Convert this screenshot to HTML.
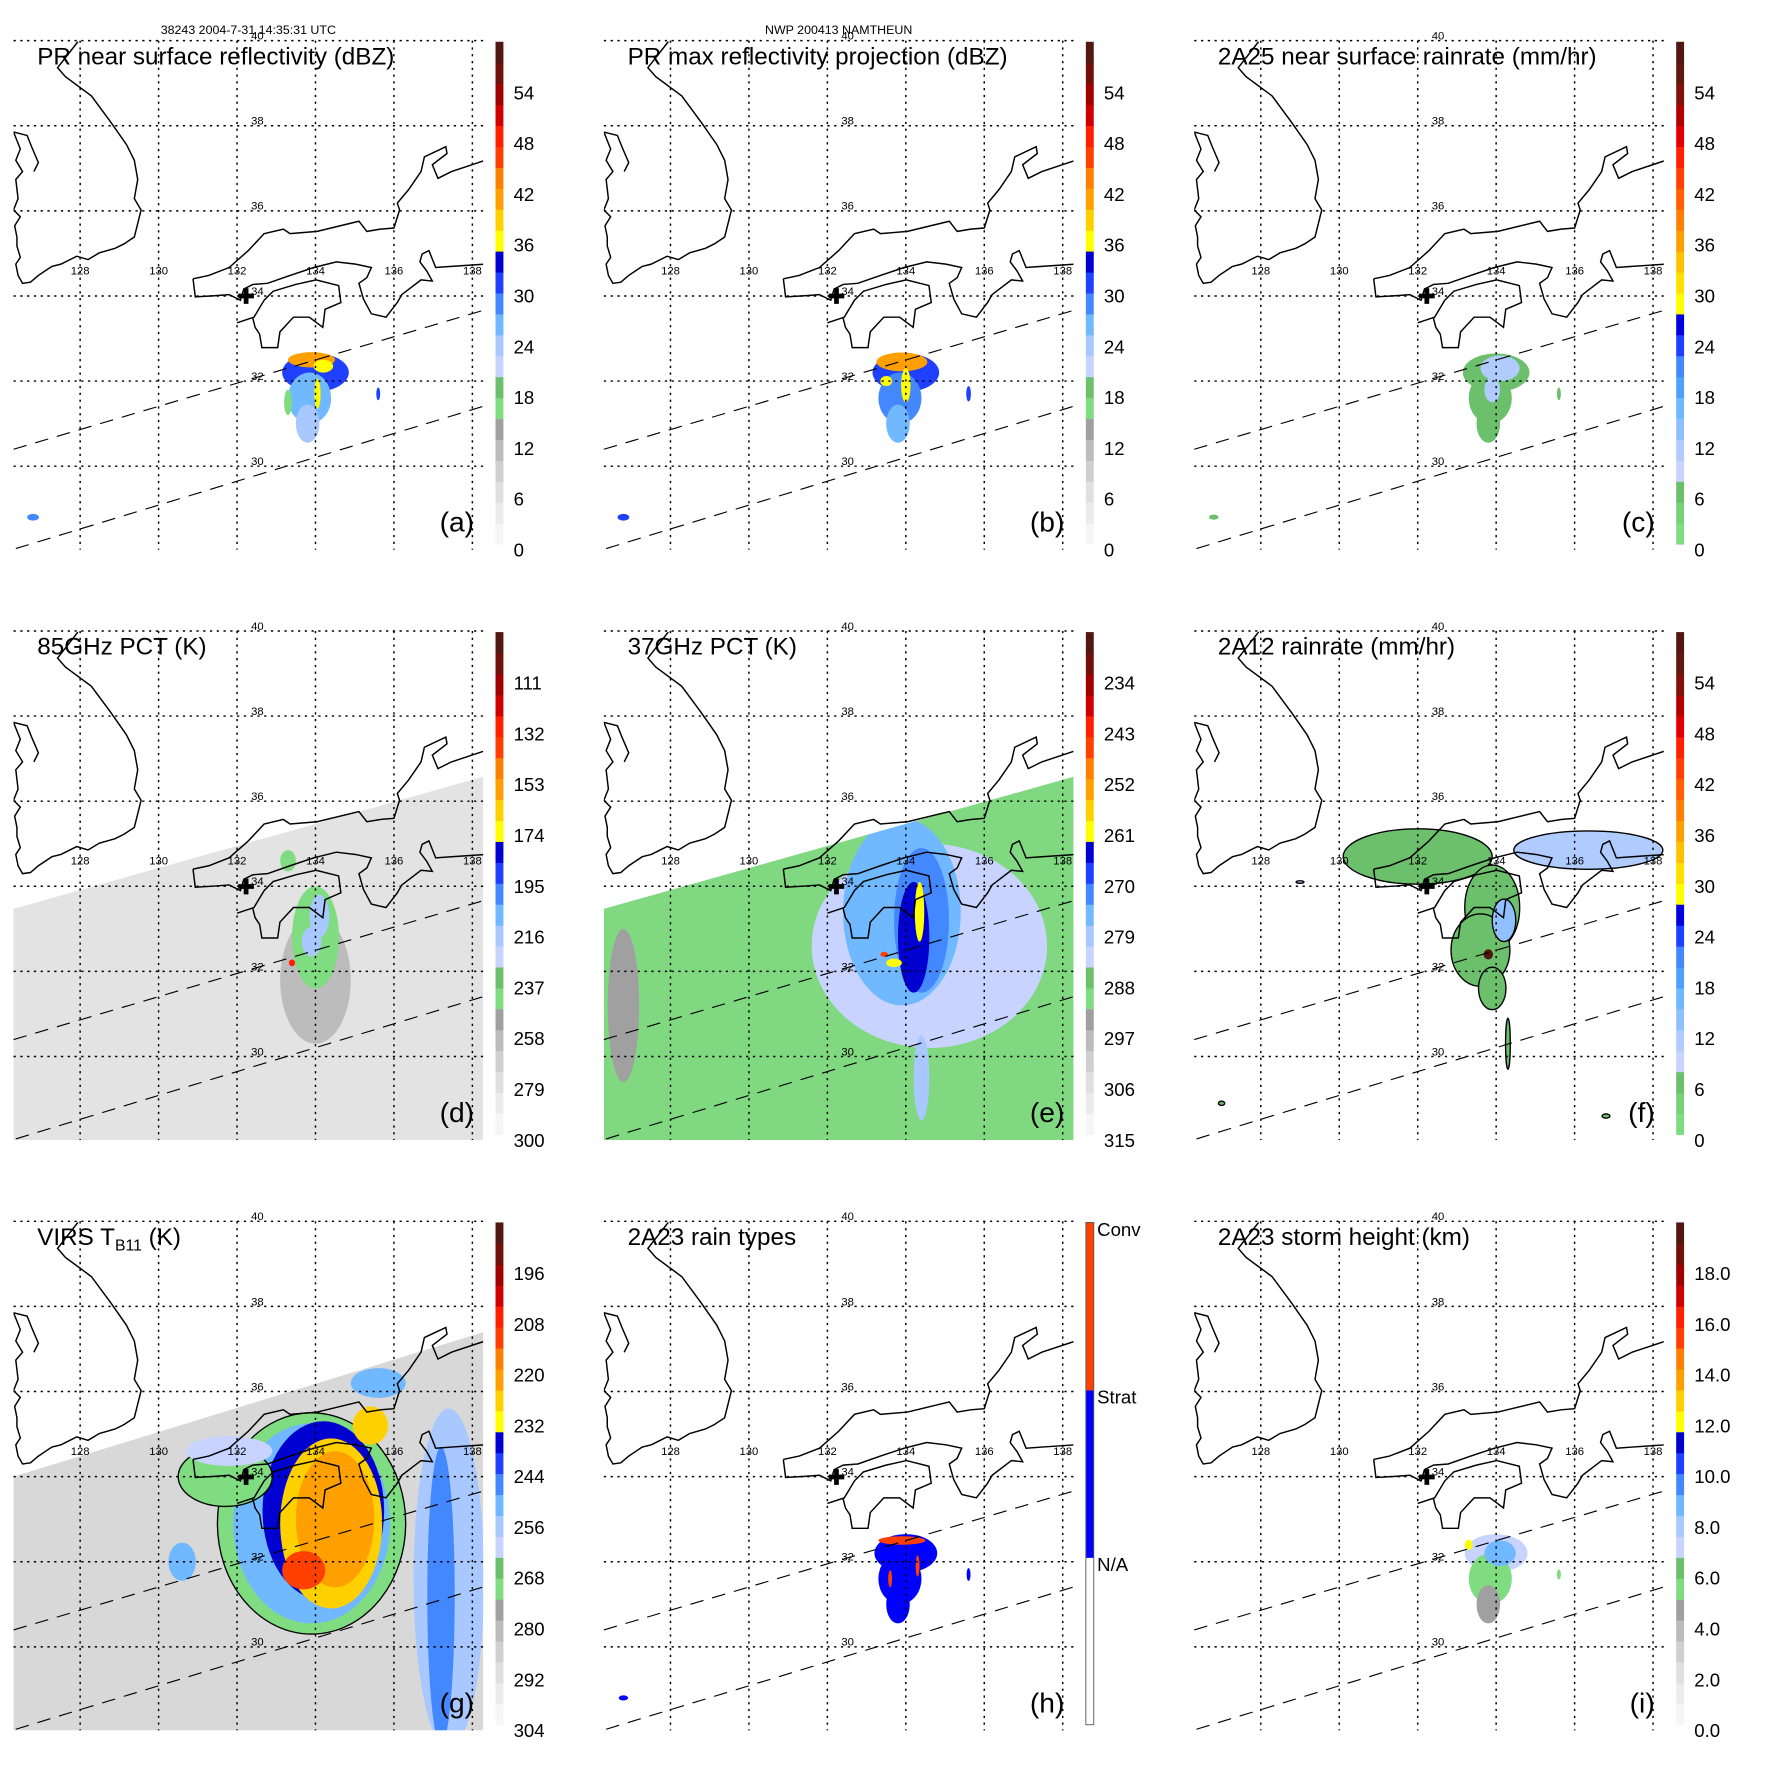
<!DOCTYPE html>
<html><head><meta charset="utf-8">
<style>
html,body{margin:0;padding:0;background:#fff;}
svg{display:block;font-family:"Liberation Sans",Arial,sans-serif;}
</style></head>
<body>
<svg id="fig" xmlns="http://www.w3.org/2000/svg" width="1771" height="1771" viewBox="0 0 1569 1569">
<rect x="0" y="0" width="1569" height="1569" fill="#fff"/>
<text x="220" y="30" font-size="11" text-anchor="middle">38243 2004-7-31 14:35:31 UTC</text>
<text x="743" y="30" font-size="11" text-anchor="middle">NWP 200413 NAMTHEUN</text>
</svg>
<script>
// ---- data ----
const lonTicks = [128,130,132,134,136,138];
const latTicks = [30,32,34,36,38,40];
const panelTitles = ["PR near surface reflectivity (dBZ)","PR max reflectivity projection (dBZ)","2A25 near surface rainrate (mm/hr)","85GHz PCT (K)","37GHz PCT (K)","2A12 rainrate (mm/hr)","VIRS T_B11 (K)","2A23 rain types","2A23 storm height (km)"];
const panelLetters = ["(a)","(b)","(c)","(d)","(e)","(f)","(g)","(h)","(i)"];
const ticksA = ["0","6","12","18","24","30","36","42","48","54"];
const ticksD = ["300","279","258","237","216","195","174","153","132","111"];
const ticksE = ["315","306","297","288","279","270","261","252","243","234"];
const ticksG = ["304","292","280","268","256","244","232","220","208","196"];
const ticksI = ["0.0","2.0","4.0","6.0","8.0","10.0","12.0","14.0","16.0","18.0"];
const ticksH = ["N/A","Strat","Conv"];
// field blobs: [lon, lat, rxDeg, ryDeg, value(0-60 scale)]
const blobsA = [[134.0,32.2,0.85,0.45,30],[133.85,31.6,0.55,0.6,27],[133.8,31.0,0.3,0.45,24],[133.9,32.5,0.6,0.18,40],[134.2,32.35,0.25,0.15,37],[134.05,31.7,0.08,0.35,37],[135.6,31.7,0.05,0.15,30],[126.8,28.8,0.15,0.08,29],[133.3,31.5,0.1,0.3,17]];
const blobsB = [[134.0,32.2,0.85,0.45,30],[133.85,31.6,0.55,0.6,28],[133.8,31.0,0.3,0.45,26],[133.9,32.45,0.65,0.22,40],[134.0,31.9,0.12,0.4,37],[133.5,32.0,0.15,0.12,37],[135.6,31.7,0.06,0.18,30],[126.8,28.8,0.15,0.08,30]];
const blobsC = [[134.0,32.2,0.85,0.45,5],[133.85,31.6,0.55,0.6,5],[133.8,31.0,0.3,0.45,5],[134.1,32.3,0.5,0.3,12],[133.9,31.8,0.2,0.3,12],[135.6,31.7,0.05,0.15,5],[126.8,28.8,0.12,0.06,5]];
const blobsD = [[134.0,31.8,0.9,1.5,11],[133.3,34.6,0.2,0.25,17],[134.0,32.8,0.6,1.2,17],[134.1,33.3,0.25,0.5,24],[133.4,32.2,0.08,0.08,48],[133.9,32.7,0.25,0.35,24]];
const blobsE = [[134.6,32.6,3.0,2.4,21],[133.9,33.4,1.5,2.2,25],[134.4,33.2,0.7,1.7,29],[134.2,32.8,0.4,1.3,33],[132.8,35.5,0.4,0.2,33],[134.35,33.4,0.12,0.7,36],[133.7,32.2,0.2,0.1,36],[133.45,32.4,0.1,0.06,47],[126.8,31.2,0.4,1.8,13],[134.4,29.5,0.2,1.0,23]];
const blobsF = [[132.0,34.7,1.9,0.65,5],[133.9,33.5,0.7,1.0,5],[133.6,32.5,0.75,0.85,5],[133.9,31.6,0.35,0.5,5],[136.35,34.85,1.9,0.45,12],[134.2,33.2,0.3,0.5,14],[133.8,32.4,0.12,0.12,60],[134.3,30.3,0.06,0.6,5],[127.0,28.9,0.08,0.05,5],[136.8,28.6,0.1,0.05,5],[129.0,34.1,0.1,0.03,12]];
const blobsG = [[133.9,32.9,2.4,2.6,17],[133.9,32.9,2.0,2.35,27],[134.2,33.2,1.55,2.1,33],[134.4,32.9,1.3,2.0,38],[134.5,33.0,1.0,1.6,42],[133.7,31.8,0.55,0.45,47],[131.7,34.0,1.2,0.7,17],[131.8,34.6,1.1,0.35,21],[137.4,31.6,0.9,4.0,23],[137.2,31.2,0.35,3.5,29],[135.6,36.2,0.7,0.35,27],[135.4,35.2,0.45,0.45,38],[130.6,32.0,0.35,0.45,25]];
const blobsH = [[134.0,32.2,0.8,0.45,1],[133.85,31.6,0.55,0.6,1],[133.8,31.0,0.3,0.45,1],[133.9,32.5,0.6,0.1,2],[133.6,31.6,0.05,0.2,2],[134.3,31.9,0.05,0.25,2],[135.6,31.7,0.05,0.15,1],[126.8,28.8,0.12,0.06,1]];
const blobsI = [[134.0,32.2,0.8,0.45,20],[133.85,31.6,0.55,0.6,17],[133.8,31.0,0.3,0.45,13],[134.1,32.2,0.4,0.3,25],[133.3,32.4,0.1,0.12,36],[135.6,31.7,0.05,0.12,17]];
// ---- colormaps (bins bottom->top) ----
const cmapStd = ["#f6f6f6","#ececec","#e0e0e0","#d0d0d0","#bcbcbc","#a0a0a0","#80dc80","#6cc06c","#c8d4ff","#a8c8ff","#70b8ff","#4488ff","#2040ff","#0000d0","#ffff00","#ffd000","#ffa000","#ff8000","#ff4000","#ff2000","#d00000","#a00000","#701008","#501810"];
const cmapRain = ["#80dc80","#78d078","#6cc06c","#c8d4ff","#b0ccff","#90c0ff","#70b8ff","#50a0ff","#4488ff","#2040ff","#0000e0","#ffff00","#ffe000","#ffc000","#ffa000","#ff8000","#ff6000","#ff4000","#ff2000","#e00000","#b00000","#801008","#601810","#501810"];
const cmapType = ["#ffffff","#0000ff","#ff4000"];

const NS = "http://www.w3.org/2000/svg";
const svg = document.getElementById("fig");
function el(tag, attrs, parent){ const e=document.createElementNS(NS,tag); for(const k in attrs) e.setAttribute(k,attrs[k]); (parent||svg).appendChild(e); return e; }
function lonX(lon){ return 71 + (lon-128)*34.75; }
function latY(lat){ return 413 - (lat-30)*37.7; }
function colorOf(cmap, v){ const n=cmap.length; let i=Math.floor(v/60*n); if(i<0)i=0; if(i>=n)i=n-1; return cmap[i]; }

const coastKorea = "M69,37 L51,60 L58,68 L81,85 L98,108 L112,128 L119,142 L122,159 L119,176 L125,186 L119,210 L110,216 L102,220 L88,224 L78,230 L68,227 L60,231 L54,234 L46,236 L40,240 L34,244 L27,250 L20,251 L16,244 L14,234 L18,228 L15,218 L15,210 L13,200 L18,192 L12,186 L16,176 L14,159 L20,152 L14,142 L18,132 L12,117 L24,120 L28,130 L34,144 L30,152";
const coastHonshu = "M171,247 L173,263 L190,262 L203,261 L213,266 L216,256 L224,252 L237,251 L257,244 L278,237 L298,232 L315,234 L329,237 L325,246 L318,251 L322,265 L329,278 L342,281 L352,268 L356,261 L373,248 L383,249 L378,240 L372,232 L374,225 L380,222 L386,237 L400,236 L430,234 M171,247 L185,244 L203,237 L220,222 L234,207 L251,203 L257,207 L281,205 L318,196 L325,205 L337,203 L349,202 L354,186 L352,180 L362,168 L373,152 L376,139 L395,130 L396,136 L383,146 L388,158 L400,152 L430,142";
const coastShikoku = "M210,286 L225,281 L234,266 L242,258 L262,252 L280,248 L300,253 L302,268 L288,274 L286,290 L274,281 L260,281 L248,294 L246,308 L232,308 L230,296 L226,290 L224,282";

const specs = [
 {blobs:blobsA,cmap:cmapStd,ticks:ticksA,swath:null,bg:null,outline:false},
 {blobs:blobsB,cmap:cmapStd,ticks:ticksA,swath:null,bg:null,outline:true},
 {blobs:blobsC,cmap:cmapRain,ticks:ticksA,swath:null,bg:null,outline:false},
 {blobs:blobsD,cmap:cmapStd,ticks:ticksD,swath:[[126.3,33.47],[138.3,36.58]],bg:"#e3e3e3",outline:false},
 {blobs:blobsE,cmap:cmapStd,ticks:ticksE,swath:[[126.3,33.47],[138.3,36.58]],bg:"#80d880",outline:false},
 {blobs:blobsF,cmap:cmapRain,ticks:ticksA,swath:null,bg:null,outline:true},
 {blobs:blobsG,cmap:cmapStd,ticks:ticksG,swath:[[126.3,34.0],[138.3,37.4]],bg:"#d8d8d8",outline:true},
 {blobs:blobsH,cmap:cmapType,ticks:ticksH,swath:null,bg:null,outline:false,cat:true},
 {blobs:blobsI,cmap:cmapStd,ticks:ticksI,swath:null,bg:null,outline:false}
];

specs.forEach((sp, idx)=>{
  const ox = (idx%3)*523, oy = Math.floor(idx/3)*523;
  const g = el("g",{transform:`translate(${ox},${oy})`});
  
  
  const cid = "clip"+idx;
  const cp = el("clipPath",{id:cid},g); el("rect",{x:12,y:36,width:416,height:451},cp);
  const field = el("g",{"clip-path":`url(#${cid})`},g);
  
  
  let fieldInner = field;
  if(sp.swath){
    const sid="sw"+idx;
    const scp = el("clipPath",{id:sid},g);
    const pts = `${lonX(sp.swath[0][0])},${latY(sp.swath[0][1])} ${lonX(sp.swath[1][0])},${latY(sp.swath[1][1])} 428,487 12,487`;
    el("polygon",{points:pts},scp);
    const bg = el("polygon",{points:pts,fill:sp.bg},field);
    
    
    fieldInner = el("g",{"clip-path":`url(#${sid})`},field);
  }
  sp.blobs.forEach(b=>{
    const c = sp.cat ? sp.cmap[b[4]] : colorOf(sp.cmap,b[4]);
    const e = el("ellipse",{cx:lonX(b[0]),cy:latY(b[1]),rx:b[2]*34.75,ry:b[3]*37.7,fill:c,stroke:sp.outline&&b[4]<20?"#000":"none","stroke-width":1.2},fieldInner);
    
    
  });
  // grid
  lonTicks.forEach(l=>{
    const x=lonX(l);
    const ln=el("line",{x1:x,y1:36,x2:x,y2:487,stroke:"#000","stroke-width":1.3,"stroke-dasharray":"2,4"},g);
    
    
    const t=el("text",{x:x,y:243,"font-size":10,"text-anchor":"middle"},g); t.textContent=l;
    
    
  });
  latTicks.forEach(l=>{
    const y=latY(l);
    const ln=el("line",{x1:12,y1:y,x2:428,y2:y,stroke:"#000","stroke-width":1.3,"stroke-dasharray":"2,4"},g);
    
    
    const t=el("text",{x:228,y:y-1,"font-size":10,"text-anchor":"middle"},g); t.textContent=l;
    
    
  });
  // swath edges
  [[12,398,428,275],[14,486,428,360]].forEach(s=>{
    const ln=el("line",{x1:s[0],y1:s[1],x2:s[2],y2:s[3],stroke:"#000","stroke-width":1,"stroke-dasharray":"12,8"},g);
    
    
  });
  [coastKorea,coastHonshu,coastShikoku].forEach(p=>{
    const c=el("path",{d:p,fill:"none",stroke:"#000","stroke-width":1.3,"clip-path":`url(#${cid})`},g);
    
    
  });
  const cross=el("text",{x:218,y:269,"font-size":18,"font-weight":"bold","text-anchor":"middle"},g); cross.textContent="✚";
  
  
  // title
  const tt=el("text",{x:33,y:57,"font-size":21.5},g);
  
  
  if(panelTitles[idx].indexOf("T_B11")>=0){
    const a=el("tspan",{},tt); a.textContent="VIRS T";
    const b=el("tspan",{"font-size":14,dy:5},tt); b.textContent="B11";
    const c=el("tspan",{dy:-5},tt); c.textContent=" (K)";
  } else tt.textContent=panelTitles[idx];
  const lt=el("text",{x:420,y:471,"font-size":25,"text-anchor":"end"},g); lt.textContent=panelLetters[idx];
  
  
  // colorbar
  const cb=el("g",{},g);
  
  
  const top=37, H=445, n=sp.cmap.length;
  sp.cmap.forEach((c,i)=>{
    el("rect",{x:439,y:top+H-(i+1)*H/n,width:7,height:H/n+0.5,fill:c},cb);
  });
  if(sp.cat) el("rect",{x:439,y:top,width:7,height:H,fill:"none",stroke:"#555","stroke-width":0.8},cb);
  sp.ticks.forEach((tk,i)=>{
    const y = sp.cat ? top+H-(i+1)*H/3+6 : top+450-i*45;
    const xx = sp.cat?449:455;
    const t=el("text",{x:xx,y:y+6,"font-size":16.5},cb); t.textContent=tk;
    
    
  });
});
</script>
</body></html>
